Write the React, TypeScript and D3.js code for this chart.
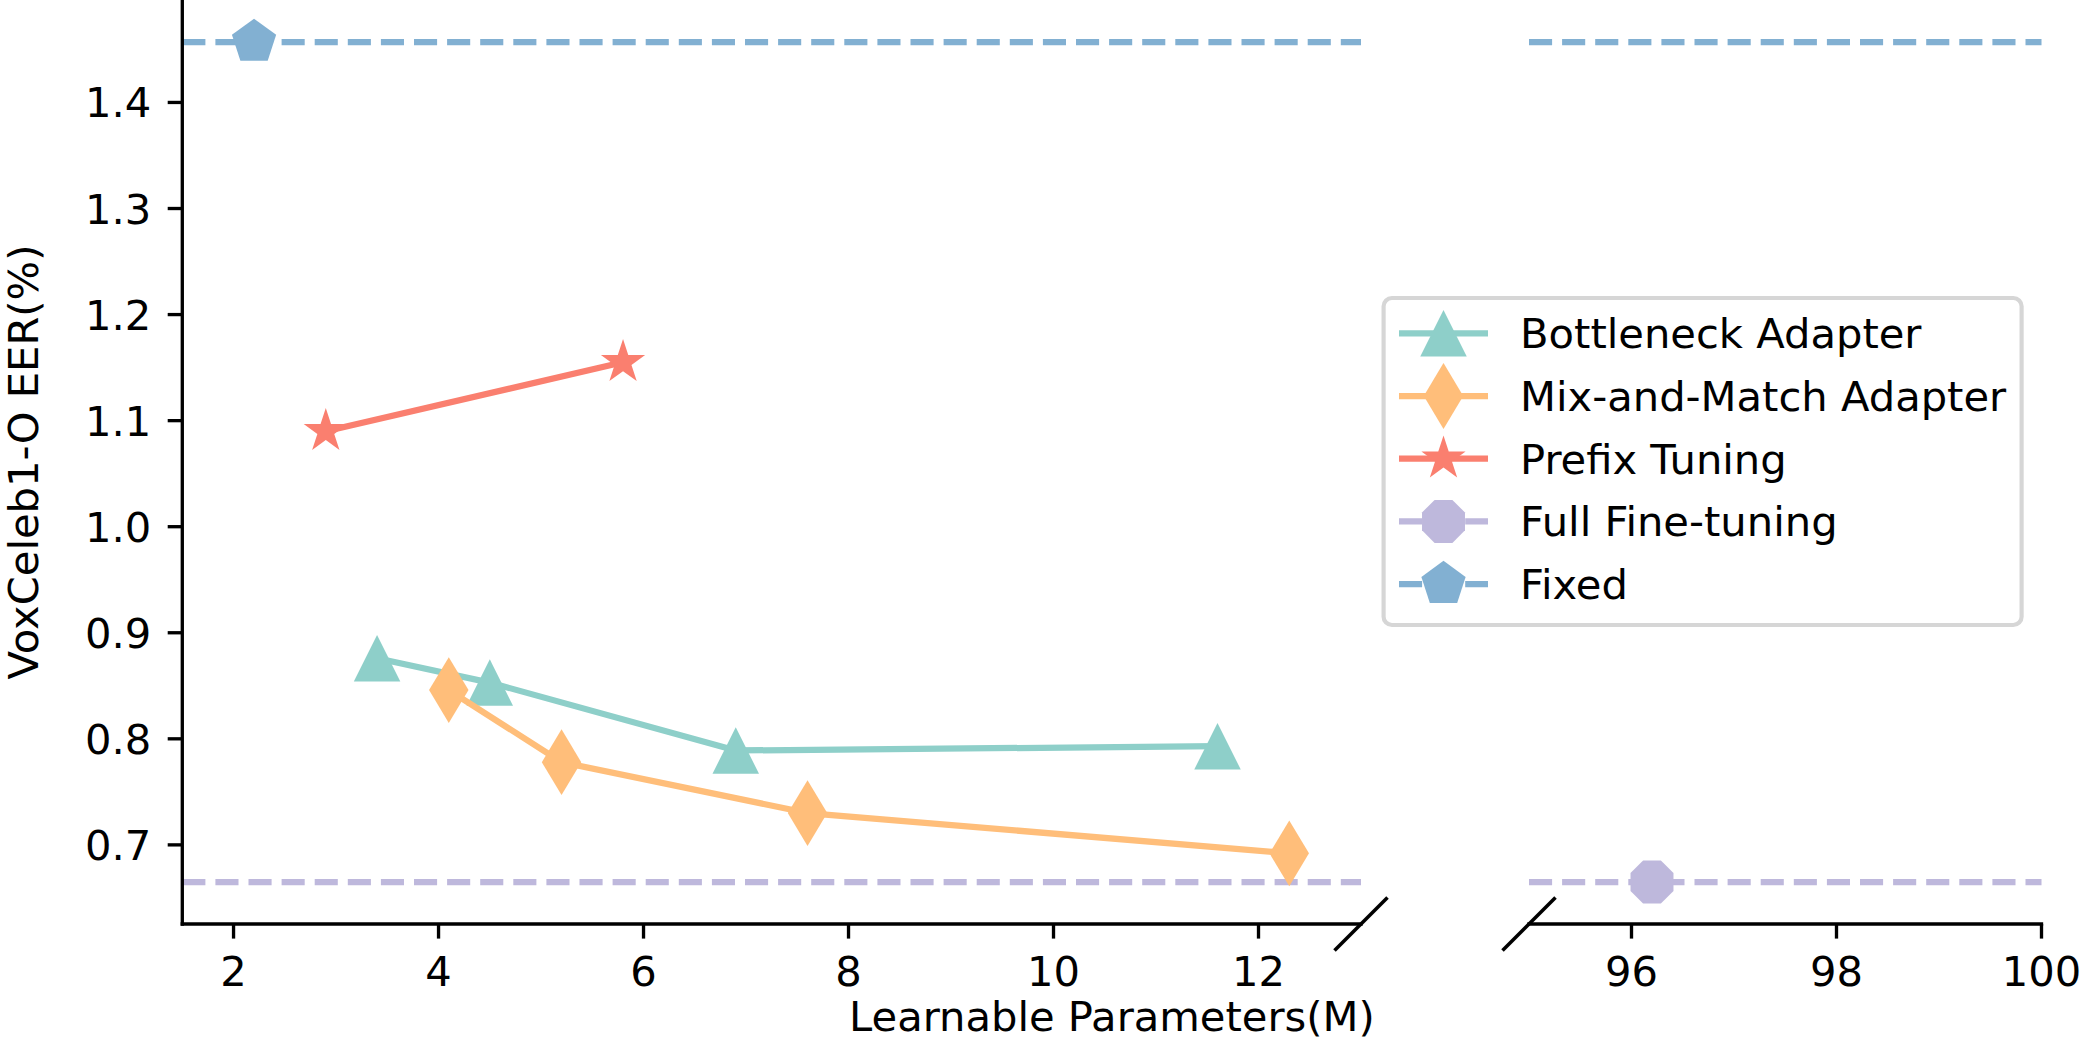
import React from "react";
import * as d3 from "d3";

// ---------- data ----------
const bottleneckX = [3.4, 4.5, 6.9, 11.6];
const bottleneckY = [0.876, 0.853, 0.789, 0.793];
const mixMatchX = [4.1, 5.2, 7.6, 12.3];
const mixMatchY = [0.846, 0.778, 0.730, 0.692];
const prefixX = [2.9, 5.8];
const prefixY = [1.090, 1.155];
const fullFtX = [96.2];
const fullFtY = [0.665];
const fixedX = [2.2];
const fixedY = [1.457];

const yTicks = [0.7, 0.8, 0.9, 1.0, 1.1, 1.2, 1.3, 1.4];
const xTicksLeft = [2, 4, 6, 8, 10, 12];
const xTicksRight = [96, 98, 100];

const legendLabels = [
  "Bottleneck Adapter",
  "Mix-and-Match Adapter",
  "Prefix Tuning",
  "Full Fine-tuning",
  "Fixed",
];

// ---------- style ----------
const W = 2081;
const H = 1043;
const FONT = "'DejaVu Sans', sans-serif";
const FS = 41.67;
const LW = 6.25;
const SPINE = 3.33;
const TICK = 14.6;
const MS = 46.5;
const DASH = "23.1 10";

const C = {
  teal: "#8ECFC9",
  orange: "#FFBE7A",
  red: "#FA7F6F",
  purple: "#BEB8DC",
  blue: "#82B0D2",
};

type Shape = "tri" | "thindia" | "star" | "oct" | "pent";

function markerPath(shape: Shape, s: number): string {
  const p = d3.path();
  const R = s / 2;
  const poly = (pts: [number, number][]) => {
    pts.forEach(([x, y], i) => (i === 0 ? p.moveTo(x, y) : p.lineTo(x, y)));
    p.closePath();
  };
  if (shape === "tri") {
    poly([
      [0, -R],
      [-R, R],
      [R, R],
    ]);
  } else if (shape === "thindia") {
    const h = 0.7071 * s;
    const w = 0.6 * h;
    poly([
      [0, -h],
      [w, 0],
      [0, h],
      [-w, 0],
    ]);
  } else if (shape === "star") {
    const r = 0.381966 * R;
    const pts: [number, number][] = [];
    for (let i = 0; i < 10; i++) {
      const a = -Math.PI / 2 + (i * Math.PI) / 5;
      const rr = i % 2 === 0 ? R : r;
      pts.push([rr * Math.cos(a), rr * Math.sin(a)]);
    }
    poly(pts);
  } else if (shape === "oct") {
    const pts: [number, number][] = [];
    for (let i = 0; i < 8; i++) {
      const a = Math.PI / 8 + (i * Math.PI) / 4;
      pts.push([R * Math.cos(a), R * Math.sin(a)]);
    }
    poly(pts);
  } else {
    const pts: [number, number][] = [];
    for (let i = 0; i < 5; i++) {
      const a = -Math.PI / 2 + (i * 2 * Math.PI) / 5;
      pts.push([R * Math.cos(a), R * Math.sin(a)]);
    }
    poly(pts);
  }
  return p.toString();
}

// ---------- scales ----------
const yScale = d3.scaleLinear().domain([0.6254, 1.4966]).range([924, 0]);
const xL = d3.scaleLinear().domain([1.5, 13]).range([182.3, 1361]);
const xR = d3.scaleLinear().domain([95, 100]).range([1529, 2041.5]);

type Series = {
  xs: number[];
  ys: number[];
  color: string;
  shape: Shape;
  panel: "L" | "R";
};

const series: Series[] = [
  { xs: bottleneckX, ys: bottleneckY, color: C.teal, shape: "tri", panel: "L" },
  { xs: mixMatchX, ys: mixMatchY, color: C.orange, shape: "thindia", panel: "L" },
  { xs: prefixX, ys: prefixY, color: C.red, shape: "star", panel: "L" },
  { xs: fullFtX, ys: fullFtY, color: C.purple, shape: "oct", panel: "R" },
  { xs: fixedX, ys: fixedY, color: C.blue, shape: "pent", panel: "L" },
];

const legendColors = [C.teal, C.orange, C.red, C.purple, C.blue];
const legendShapes: Shape[] = ["tri", "thindia", "star", "oct", "pent"];
const legendDashed = [false, false, false, true, true];

export default function App() {
  const lineGen = (xs: (v: number) => number) =>
    d3
      .line<[number, number]>()
      .x((d) => xs(d[0]))
      .y((d) => yScale(d[1]));

  const hLines = [
    { v: fullFtY[0], color: C.purple },
    { v: fixedY[0], color: C.blue },
  ];

  const legX = 1383.6;
  const legY = 298;
  const legW = 638;
  const legH = 327;
  const rowY0 = 333.3;
  const rowDy = 62.7;

  return (
    <svg
      width={W}
      height={H}
      viewBox={`0 0 ${W} ${H}`}
      style={{ position: "absolute", left: 0, top: 0, background: "#fff", display: "block" }}
      fontFamily={FONT}
    >
      <rect x={0} y={0} width={W} height={H} fill="#fff" />

      {/* horizontal reference lines */}
      {hLines.map((h, i) => (
        <g key={"h" + i}>
          <line
            x1={xL.range()[0]}
            x2={xL.range()[1]}
            y1={yScale(h.v)}
            y2={yScale(h.v)}
            stroke={h.color}
            strokeWidth={LW}
            strokeDasharray={DASH}
          />
          <line
            x1={xR.range()[0]}
            x2={xR.range()[1]}
            y1={yScale(h.v)}
            y2={yScale(h.v)}
            stroke={h.color}
            strokeWidth={LW}
            strokeDasharray={DASH}
          />
        </g>
      ))}

      {/* series */}
      {series.map((s, i) => {
        const xs = s.panel === "L" ? xL : xR;
        const pts = s.xs.map((x, j) => [x, s.ys[j]] as [number, number]);
        return (
          <g key={"s" + i}>
            {pts.length > 1 && (
              <path
                d={lineGen(xs)(pts) || ""}
                fill="none"
                stroke={s.color}
                strokeWidth={LW}
                strokeLinejoin="round"
                strokeLinecap="butt"
              />
            )}
            {pts.map((p, j) => (
              <path
                key={j}
                d={markerPath(s.shape, MS)}
                transform={`translate(${xs(p[0])},${yScale(p[1])})`}
                fill={s.color}
              />
            ))}
          </g>
        );
      })}

      {/* spines */}
      <line x1={xL.range()[0]} x2={xL.range()[0]} y1={0} y2={924} stroke="#000" strokeWidth={SPINE} strokeLinecap="square" />
      <line x1={xL.range()[0]} x2={xL.range()[1]} y1={924} y2={924} stroke="#000" strokeWidth={SPINE} strokeLinecap="square" />
      <line x1={xR.range()[0]} x2={xR.range()[1]} y1={924} y2={924} stroke="#000" strokeWidth={SPINE} strokeLinecap="square" />

      {/* break marks */}
      {[xL.range()[1], xR.range()[0]].map((bx, i) => (
        <line
          key={"b" + i}
          x1={bx - 26.5}
          y1={924 + 26.5}
          x2={bx + 26.5}
          y2={924 - 26.5}
          stroke="#000"
          strokeWidth={3.6}
        />
      ))}

      {/* y ticks */}
      {yTicks.map((t) => (
        <g key={"y" + t}>
          <line x1={xL.range()[0] - TICK} x2={xL.range()[0]} y1={yScale(t)} y2={yScale(t)} stroke="#000" strokeWidth={SPINE} />
          <text x={xL.range()[0] - 31} y={yScale(t) + 15} fontSize={FS} textAnchor="end" fill="#000">
            {d3.format(".1f")(t)}
          </text>
        </g>
      ))}

      {/* x ticks */}
      {xTicksLeft.map((t) => (
        <g key={"xl" + t}>
          <line x1={xL(t)} x2={xL(t)} y1={924} y2={924 + TICK} stroke="#000" strokeWidth={SPINE} />
          <text x={xL(t)} y={986} fontSize={FS} textAnchor="middle" fill="#000">
            {t}
          </text>
        </g>
      ))}
      {xTicksRight.map((t) => (
        <g key={"xr" + t}>
          <line x1={xR(t)} x2={xR(t)} y1={924} y2={924 + TICK} stroke="#000" strokeWidth={SPINE} />
          <text x={xR(t)} y={986} fontSize={FS} textAnchor="middle" fill="#000">
            {t}
          </text>
        </g>
      ))}

      {/* axis labels */}
      <text x={(xL.range()[0] + xR.range()[1]) / 2} y={1031} fontSize={FS} textAnchor="middle" fill="#000">
        Learnable Parameters(M)
      </text>
      <text
        transform={`translate(38,${462}) rotate(-90)`}
        fontSize={FS}
        textAnchor="middle"
        fill="#000"
      >
        VoxCeleb1-O EER(%)
      </text>

      {/* legend */}
      <rect
        x={legX}
        y={legY}
        width={legW}
        height={legH}
        rx={8.3}
        ry={8.3}
        fill="#fff"
        fillOpacity={0.8}
        stroke="#d6d6d6"
        strokeWidth={4.17}
      />
      {legendLabels.map((lab, i) => {
        const cy = rowY0 + i * rowDy;
        return (
          <g key={"lg" + i}>
            <line
              x1={1399}
              x2={1488}
              y1={cy}
              y2={cy}
              stroke={legendColors[i]}
              strokeWidth={LW}
              strokeDasharray={legendDashed[i] ? DASH : undefined}
            />
            <path d={markerPath(legendShapes[i], MS)} transform={`translate(1443.5,${cy})`} fill={legendColors[i]} />
            <text x={1520} y={cy + 15} fontSize={FS} fill="#000">
              {lab}
            </text>
          </g>
        );
      })}
    </svg>
  );
}
